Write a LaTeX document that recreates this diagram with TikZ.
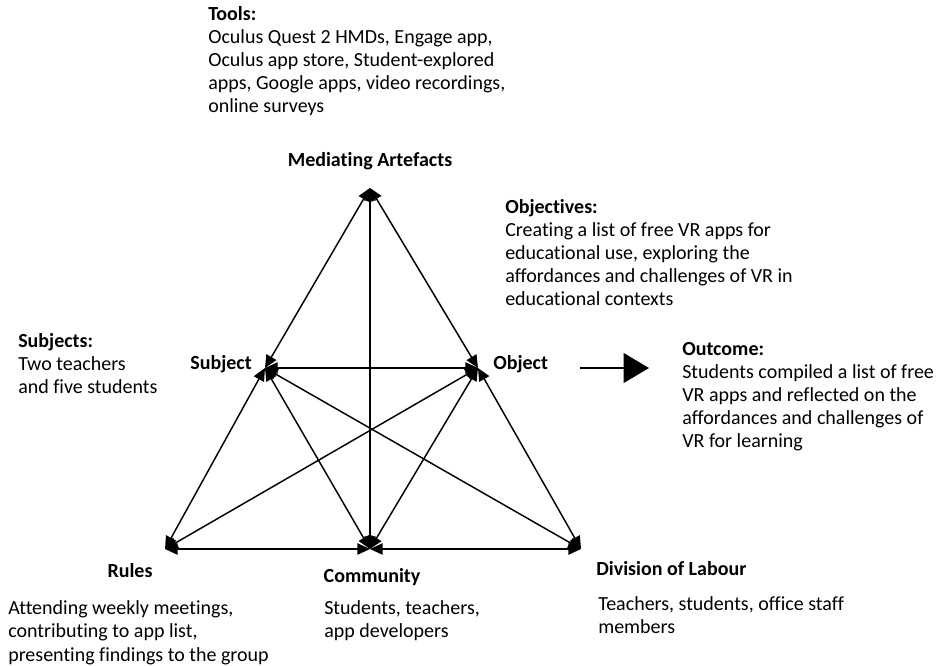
\documentclass[tikz,border=0pt]{standalone}
\usepackage{fontspec}
\setmainfont{Carlito}[Ligatures=NoCommon]
\usetikzlibrary{arrows.meta}
\begin{document}
\begin{tikzpicture}[x=0.75pt,y=-0.75pt,
  lbl/.style={font=\fontsize{15}{17.2}\selectfont\bfseries, inner sep=0},
  txt/.style={font=\fontsize{15}{17.2}\selectfont, align=left, inner sep=0, anchor=north west},
  tip/.tip={Triangle[length=9.5pt,width=8.5pt]},
  link/.style={line width=1.1pt, tip-tip},
  bigarrow/.style={line width=2.2pt, -{Triangle[length=19pt,width=22pt]}}
]
\useasboundingbox (0,0) rectangle (937,665);
% vertices
\coordinate (T) at (370,188);
\coordinate (S) at (265,368);
\coordinate (O) at (478,368);
\coordinate (R) at (165,549);
\coordinate (C) at (370,549);
\coordinate (D) at (581,549);
% links
\draw[link] (T) -- (S);
\draw[link] (T) -- (O);
\draw[link] (T) -- (C);
\draw[link] (S) -- (O);
\draw[link] (S) -- (R);
\draw[link] (S) -- (C);
\draw[link] (S) -- (D);
\draw[link] (O) -- (D);
\draw[link] (O) -- (C);
\draw[link] (O) -- (R);
\draw[link] (R) -- (C);
\draw[link] (D) -- (C);
% outcome arrow
\coordinate (a1) at (580,368);
\coordinate (a2) at (649,368);
\draw[bigarrow] (a1) -- (a2);
% vertex labels
\node[lbl] (lT) at (370,161) {Mediating Artefacts};
\node[lbl, anchor=east] (lS) at (252,364) {Subject};
\node[lbl, anchor=west] (lO) at (493,364) {Object};
\node[lbl] (lR) at (130,571) {Rules};
\node[lbl] (lC) at (372,577) {Community};
\node[lbl, anchor=west] (lD) at (596,569) {Division of Labour};
% descriptions
\node[txt] (tools) at (208,6) {\textbf{Tools:}\\Oculus Quest 2 HMDs, Engage app,\\Oculus app store, Student-explored\\apps, Google apps, video recordings,\\online surveys};
\node[txt] (obj) at (505,199) {\textbf{Objectives:}\\Creating a list of free VR apps for\\educational use, exploring the\\affordances and challenges of VR in\\educational contexts};
\node[txt] (out) at (682,342) {\textbf{Outcome:}\\Students compiled a list of free\\VR apps and reflected on the\\affordances and challenges of\\VR for learning};
\node[txt] (subj) at (18,333) {\textbf{Subjects:}\\Two teachers\\and five students};
\node[txt, font=\fontsize{15}{17.6}\selectfont] (rules) at (8,600) {Attending weekly meetings,\\contributing to app list,\\presenting findings to the group};
\node[txt, font=\fontsize{15}{17.6}\selectfont] (comm) at (324,600) {Students, teachers,\\app developers};
\node[txt, font=\fontsize{15}{17.6}\selectfont] (div) at (598,596) {Teachers, students, office staff\\members};
\end{tikzpicture}
\end{document}
